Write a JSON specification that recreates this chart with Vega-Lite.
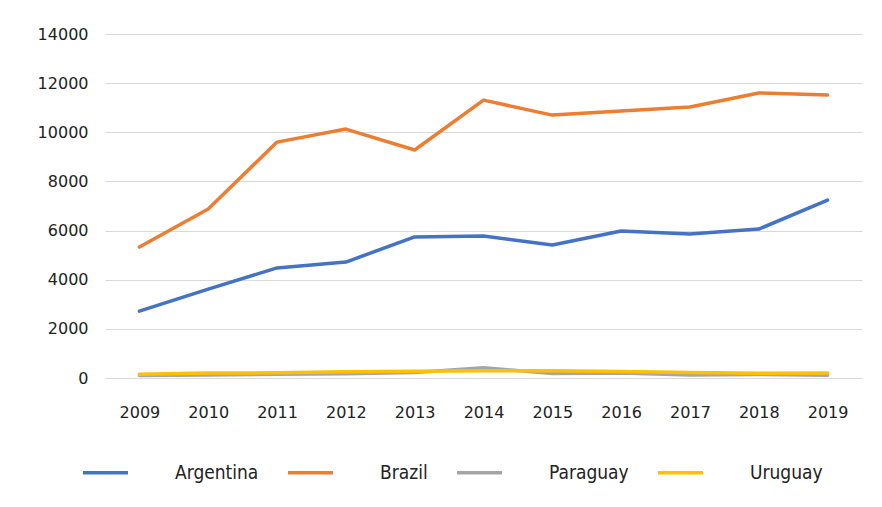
{
  "$schema": "https://vega.github.io/schema/vega-lite/v6.json",
  "width": 757,
  "height": 344,
  "padding": {"left": 37, "top": 26, "right": 10, "bottom": 5},
  "background": "white",
  "config": {
    "view": {"stroke": null},
    "font": "DejaVu Sans"
  },
  "data": {
    "values": [
      {"year": "2009", "country": "Argentina", "value": 2720},
      {"year": "2010", "country": "Argentina", "value": 3620},
      {"year": "2011", "country": "Argentina", "value": 4480},
      {"year": "2012", "country": "Argentina", "value": 4720},
      {"year": "2013", "country": "Argentina", "value": 5740},
      {"year": "2014", "country": "Argentina", "value": 5780},
      {"year": "2015", "country": "Argentina", "value": 5410},
      {"year": "2016", "country": "Argentina", "value": 5980},
      {"year": "2017", "country": "Argentina", "value": 5860},
      {"year": "2018", "country": "Argentina", "value": 6060},
      {"year": "2019", "country": "Argentina", "value": 7240},
      {"year": "2009", "country": "Brazil", "value": 5330},
      {"year": "2010", "country": "Brazil", "value": 6880},
      {"year": "2011", "country": "Brazil", "value": 9600},
      {"year": "2012", "country": "Brazil", "value": 10130},
      {"year": "2013", "country": "Brazil", "value": 9280},
      {"year": "2014", "country": "Brazil", "value": 11310},
      {"year": "2015", "country": "Brazil", "value": 10700},
      {"year": "2016", "country": "Brazil", "value": 10870},
      {"year": "2017", "country": "Brazil", "value": 11030},
      {"year": "2018", "country": "Brazil", "value": 11600},
      {"year": "2019", "country": "Brazil", "value": 11520},
      {"year": "2009", "country": "Paraguay", "value": 100},
      {"year": "2010", "country": "Paraguay", "value": 120},
      {"year": "2011", "country": "Paraguay", "value": 150},
      {"year": "2012", "country": "Paraguay", "value": 170},
      {"year": "2013", "country": "Paraguay", "value": 220},
      {"year": "2014", "country": "Paraguay", "value": 420},
      {"year": "2015", "country": "Paraguay", "value": 180},
      {"year": "2016", "country": "Paraguay", "value": 200},
      {"year": "2017", "country": "Paraguay", "value": 120},
      {"year": "2018", "country": "Paraguay", "value": 140},
      {"year": "2019", "country": "Paraguay", "value": 110},
      {"year": "2009", "country": "Uruguay", "value": 150},
      {"year": "2010", "country": "Uruguay", "value": 200},
      {"year": "2011", "country": "Uruguay", "value": 210},
      {"year": "2012", "country": "Uruguay", "value": 250},
      {"year": "2013", "country": "Uruguay", "value": 270},
      {"year": "2014", "country": "Uruguay", "value": 300},
      {"year": "2015", "country": "Uruguay", "value": 300},
      {"year": "2016", "country": "Uruguay", "value": 260},
      {"year": "2017", "country": "Uruguay", "value": 220},
      {"year": "2018", "country": "Uruguay", "value": 190},
      {"year": "2019", "country": "Uruguay", "value": 200}
    ]
  },
  "mark": {"type": "line", "strokeWidth": 3.5, "strokeCap": "round", "strokeJoin": "round"},
  "encoding": {
    "x": {
      "field": "year",
      "type": "ordinal",
      "scale": {"type": "point", "padding": 0.5},
      "axis": {
        "title": null,
        "labelAngle": 0,
        "labelFontSize": 16,
        "labelColor": "#222222",
        "labelPadding": 26,
        "ticks": false,
        "domain": false,
        "grid": false
      }
    },
    "y": {
      "field": "value",
      "type": "quantitative",
      "scale": {"domain": [0, 14000], "nice": false},
      "axis": {
        "title": null,
        "format": "d",
        "values": [0, 2000, 4000, 6000, 8000, 10000, 12000, 14000],
        "labelFontSize": 16,
        "labelColor": "#222222",
        "labelPadding": 17,
        "ticks": false,
        "domain": false,
        "gridColor": "#d9d9d9",
        "gridWidth": 1
      }
    },
    "color": {
      "field": "country",
      "type": "nominal",
      "scale": {
        "domain": ["Argentina", "Brazil", "Paraguay", "Uruguay"],
        "range": ["#4472C4", "#ED7D31", "#A5A5A5", "#FFC000"]
      },
      "legend": {
        "title": null,
        "orient": "none",
        "direction": "horizontal",
        "legendX": -24,
        "legendY": 414,
        "symbolType": "stroke",
        "symbolSize": 2025,
        "symbolStrokeWidth": 3.5,
        "labelOffset": 45,
        "columnPadding": 22,
        "labelFont": "DejaVu Sans Condensed",
        "labelFontSize": 19,
        "labelColor": "#222222"
      }
    }
  }
}
